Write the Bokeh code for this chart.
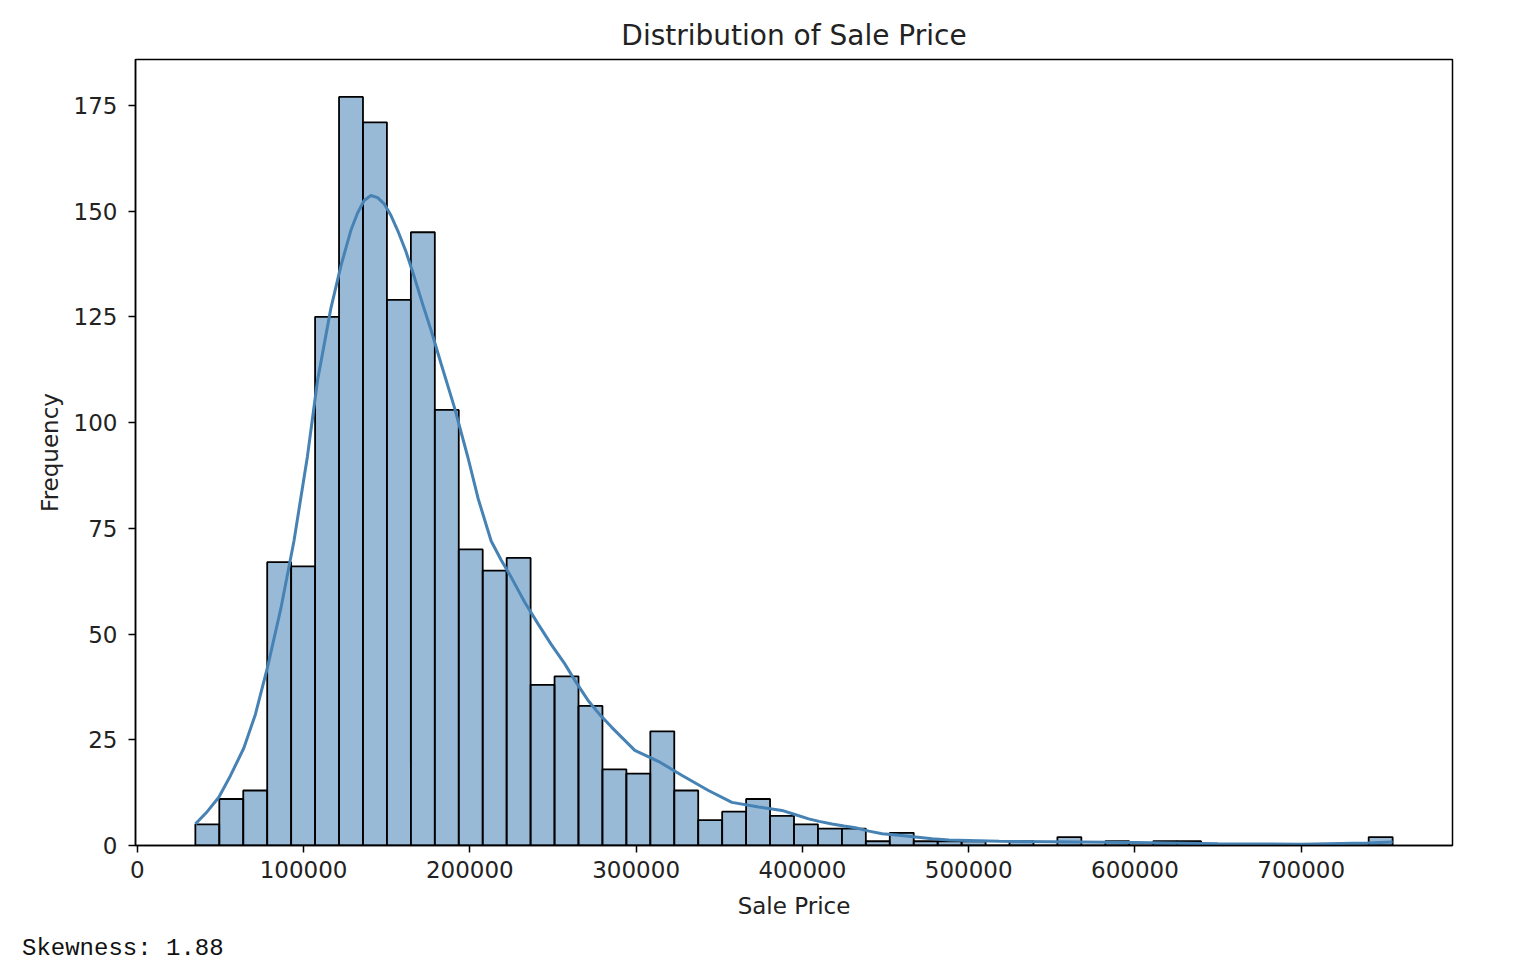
from bokeh.plotting import figure
from bokeh.models import FixedTicker, BasicTickFormatter, Range1d, Div, ColumnDataSource
from bokeh.layouts import column
from bokeh.embed import file_html
from bokeh.resources import INLINE

# ---- data ----
price_min = 34900
price_max = 755000
n_bins = 50
counts = [5, 11, 13, 67, 66, 125, 177, 171, 129, 145,
          103, 70, 65, 68, 38, 40, 33, 18, 17, 27,
          13, 6, 8, 11, 7, 5, 4, 4, 1, 3,
          1, 1, 1, 0, 1, 0, 2, 0, 1, 0,
          1, 1, 0, 0, 0, 0, 0, 0, 0, 2]
kde_x = [34900, 42000, 49000, 56000, 64000, 71000, 78200, 86300, 94200, 102300,
         108400, 116400, 122400, 128400, 132400, 136400, 140500, 144500, 148500, 152500,
         156600, 161500, 166600, 171600, 176700, 182700, 190700, 198800, 205000, 212800,
         218800, 224900, 233000, 241000, 249000, 257000, 264000, 271100, 278000, 285200,
         299200, 314300, 327400, 343500, 357600, 373700, 387700, 395000, 403800, 410000,
         417800, 425000, 431900, 440000, 448000, 458000, 468100, 478000, 488200, 500000,
         518400, 550000, 600000, 650000, 700000, 740000, 755000]
kde_y = [5.1, 8.0, 11.4, 16.5, 23, 31, 42, 56, 72, 92,
         110, 127, 137, 145.4, 149.5, 152.5, 153.7, 153.2, 151.7, 149,
         145.4, 140.5, 134.4, 128, 121.8, 113.9, 103.6, 91.8, 82, 72,
         67.5, 63.4, 57.5, 52.4, 47.5, 43, 38.5, 34.3, 31, 28,
         22.5, 19.7, 16.6, 13, 10.2, 9.1, 8.3, 7.4, 6.3, 5.7,
         5.1, 4.6, 4.2, 3.4, 2.8, 2.4, 2.0, 1.6, 1.3, 1.2,
         1.0, 0.9, 0.7, 0.4, 0.3, 0.6, 0.8]
x_ticks = [0, 100000, 200000, 300000, 400000, 500000, 600000, 700000]
y_ticks = [0, 25, 50, 75, 100, 125, 150, 175]
skewness = 1.88

bw = (price_max - price_min) / n_bins
lefts = [price_min + i * bw for i in range(n_bins)]
rights = [l + bw for l in lefts]
src = ColumnDataSource(dict(left=lefts, right=rights, top=counts, bottom=[0] * n_bins))

W, H = 1506, 930
p = figure(width=W, height=H, output_backend="svg", toolbar_location=None,
           x_range=Range1d(price_min - 36005, price_max + 36005),
           y_range=Range1d(0, 185.85),
           title="Distribution of Sale Price",
           min_border_left=135, min_border_top=59,
           min_border_right=W - 1452, min_border_bottom=H - 845)

p.quad(left="left", right="right", top="top", bottom="bottom", source=src,
       fill_color="steelblue", fill_alpha=0.55, line_color="black", line_width=1.8)
p.line(kde_x, kde_y, line_color="steelblue", line_width=3)

p.title.align = "center"
p.title.text_font = "DejaVu Sans"
p.title.text_font_size = "28px"
p.title.text_font_style = "normal"
p.title.text_color = "#222222"
p.title.standoff = 16

p.xgrid.visible = False
p.ygrid.visible = False
p.outline_line_color = "black"
p.outline_line_width = 1.5
p.outline_line_alpha = 1.0

for ax in (p.xaxis[0], p.yaxis[0]):
    ax.major_label_text_font = "DejaVu Sans"
    ax.major_label_text_font_size = "23px"
    ax.major_label_text_color = "#222222"
    ax.axis_label_text_font = "DejaVu Sans"
    ax.axis_label_text_font_size = "23px"
    ax.axis_label_text_font_style = "normal"
    ax.axis_label_text_color = "#222222"
    ax.minor_tick_line_color = None
    ax.major_tick_out = 7
    ax.major_tick_in = 0
    ax.major_tick_line_color = "black"
    ax.major_tick_line_width = 1.5
    ax.axis_line_color = "black"
    ax.axis_line_width = 1.5

p.xaxis[0].ticker = FixedTicker(ticks=x_ticks)
p.xaxis[0].formatter = BasicTickFormatter(use_scientific=False)
p.xaxis[0].axis_label = "Sale Price"
p.xaxis[0].major_label_standoff = 8
p.xaxis[0].axis_label_standoff = 12
p.yaxis[0].ticker = FixedTicker(ticks=y_ticks)
p.yaxis[0].axis_label = "Frequency"
p.yaxis[0].major_label_standoff = 11
p.yaxis[0].axis_label_standoff = 8

div = Div(text=f"Skewness: {skewness:.2f}",
          styles={"font-family": "'Liberation Mono', 'DejaVu Sans Mono', monospace",
                  "font-size": "24px", "color": "#111111"},
          margin=(2, 0, 0, 22), width=400)

layout = column(p, div)
open("out.html", "w").write(file_html(layout, INLINE))
